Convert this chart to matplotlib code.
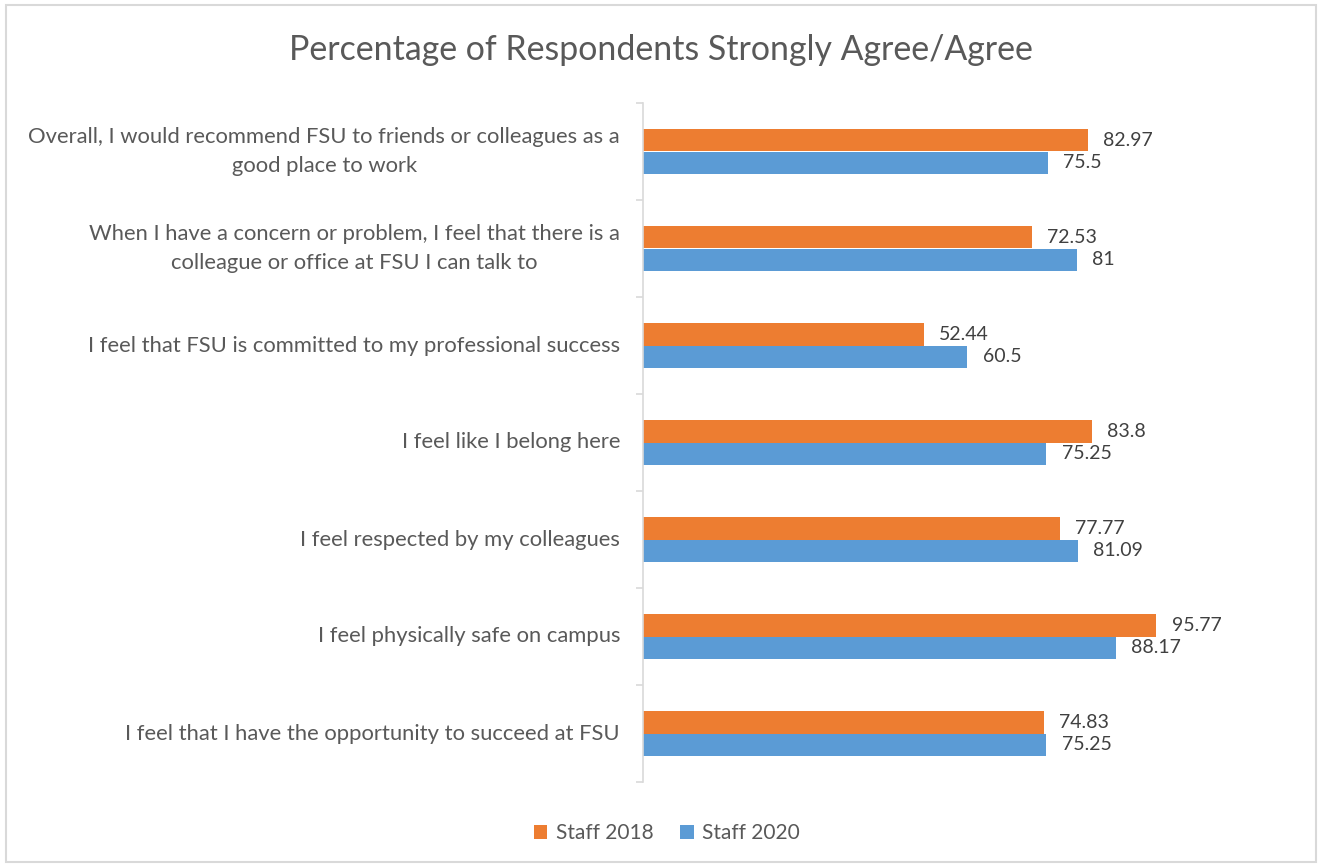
import matplotlib
matplotlib.use("Agg")
import matplotlib.pyplot as plt
from matplotlib.patches import Rectangle
import numpy as np

categories = [
    "Overall, I would recommend FSU to friends or colleagues as a\ngood place to work",
    "When I have a concern or problem, I feel that there is a\ncolleague or office at FSU I can talk to",
    "I feel that FSU is committed to my professional success",
    "I feel like I belong here",
    "I feel respected by my colleagues",
    "I feel physically safe on campus",
    "I feel that I have the opportunity to succeed at FSU",
]
staff_2018 = [82.97, 72.53, 52.44, 83.8, 77.77, 95.77, 74.83]
staff_2020 = [75.5, 81, 60.5, 75.25, 81.09, 88.17, 75.25]
labels_2018 = ["82.97", "72.53", "52.44", "83.8", "77.77", "95.77", "74.83"]
labels_2020 = ["75.5", "81", "60.5", "75.25", "81.09", "88.17", "75.25"]
series_names = ["Staff 2018", "Staff 2020"]

ORANGE = "#ED7D31"
BLUE = "#5B9BD5"
TEXT = "#595959"
plt.rcParams['font.family'] = ['Lato', 'DejaVu Sans']

fig = plt.figure(figsize=(13.2, 8.67), dpi=100)
fig.patches.append(Rectangle((6/1320, 5/867), 1310/1320, 857/867, transform=fig.transFigure,
                             fill=False, edgecolor="#D9D9D9", linewidth=1.5))
ax = fig.add_axes([643/1320, 1-782/867, (1179-643)/1320, (782-103)/867])

n = len(categories)
y = np.arange(n)
h = 0.237
ax.barh(y - h/2, staff_2018, height=h, color=ORANGE, label=series_names[0])
ax.barh(y + h/2, staff_2020, height=h, color=BLUE, label=series_names[1])
ax.set_xlim(0, 100)
ax.set_ylim(n - 0.5, -0.5)

for i in range(n):
    ax.annotate(labels_2018[i], (staff_2018[i], y[i] - h/2), xytext=(11, 0), textcoords="offset points",
                ha="left", va="center", fontsize=14, color="#404040")
    ax.annotate(labels_2020[i], (staff_2020[i], y[i] + h/2), xytext=(11, 0), textcoords="offset points",
                ha="left", va="center", fontsize=14, color="#404040")

ax.set_yticks(y)
ax.set_yticklabels([])
for i, c in enumerate(categories):
    ax.text(-23/536*100, y[i], c, ha="right", va="center", multialignment="center",
            fontsize=15.8, color=TEXT, linespacing=1.55)
ax.tick_params(axis="y", length=0)
ax.set_yticks(np.arange(n + 1) - 0.5, minor=True)
ax.tick_params(axis="y", which="minor", length=5, color="#D9D9D9", width=1.2)
ax.set_xticks([])
for s in ["top", "right", "bottom"]:
    ax.spines[s].set_visible(False)
ax.spines["left"].set_color("#D9D9D9")
ax.spines["left"].set_linewidth(1.2)

fig.text(661/1320, 1-50/867, "Percentage of Respondents Strongly Agree/Agree", ha="center", va="center",
         fontsize=24.4, color=TEXT)

leg = fig.legend(loc="center", bbox_to_anchor=(667/1320, 1-833/867), ncol=2, frameon=False,
                 fontsize=15, handlelength=0.65, handleheight=0.65, handletextpad=0.4, columnspacing=1.3,
                 labelcolor=TEXT)

fig.savefig("out.png", dpi=100)
